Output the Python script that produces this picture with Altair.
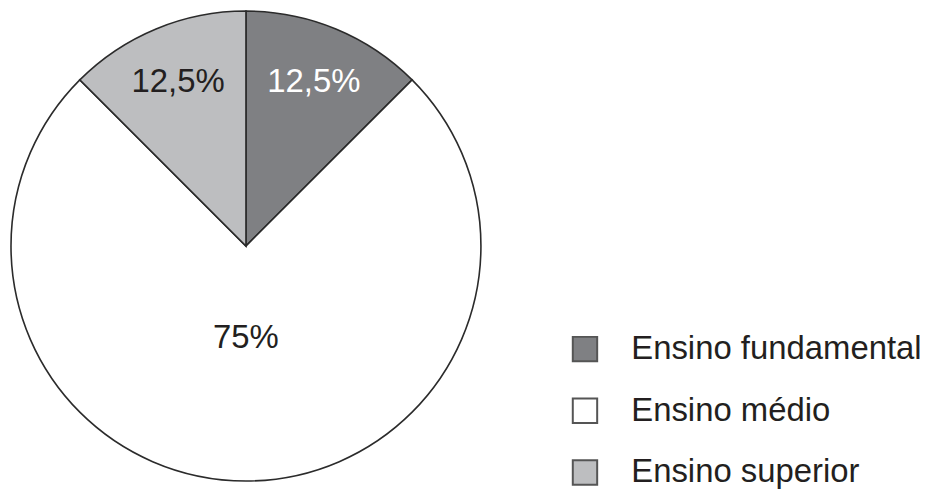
import altair as alt
import pandas as pd

categories = ["Ensino fundamental", "Ensino médio", "Ensino superior"]
values = [12.5, 75, 12.5]
labels = ["12,5%", "75%", "12,5%"]
slice_colors = ["#7f8083", "#ffffff", "#bdbec0"]
label_colors = ["#ffffff", "#231f20", "#231f20"]

df = pd.DataFrame({
    "cat": categories,
    "val": values,
    "lab": labels,
    "ord": list(range(len(categories))),
    "tcol": label_colors,
})

CX, CY, R = 239, 238, 236

pie = alt.Chart(df).mark_arc(outerRadius=R, stroke="#2b2b2b", strokeWidth=1.6).encode(
    theta=alt.Theta("val:Q", stack=True, scale=alt.Scale(domain=[0, 100])),
    order=alt.Order("ord:Q"),
    x=alt.value(CX),
    y=alt.value(CY),
    color=alt.Color(
        "cat:N",
        scale=alt.Scale(domain=categories, range=slice_colors),
        legend=alt.Legend(
            title=None,
            orient="none",
            legendX=563,
            legendY=325,
            symbolType="square",
            symbolSize=600,
            symbolStrokeColor="#555555",
            symbolStrokeWidth=2,
            symbolFillColor="#ffffff",
            labelFontSize=33,
            labelFont="Liberation Sans",
            labelColor="#231f20",
            labelOffset=30,
            labelLimit=400,
            rowPadding=28,
            padding=0,
        ),
    ),
)

texts = alt.Chart(df).transform_window(
    cum="sum(val)", sort=[alt.SortField("ord")], frame=[None, 0]
).transform_calculate(
    mid="datum.cum - datum.val / 2",
    rad="datum.val >= 50 ? 92 : 178",
).mark_text(fontSize=33, font="Liberation Sans").encode(
    theta=alt.Theta("mid:Q", stack=None, scale=alt.Scale(domain=[0, 100])),
    radius=alt.Radius("rad:Q", scale=None),
    x=alt.value(CX),
    y=alt.value(CY),
    text="lab:N",
    color=alt.Color("tcol:N", scale=None),
)

chart = alt.layer(pie, texts).resolve_scale(theta="independent").properties(
    width=920,
    height=483,
    autosize=alt.AutoSizeParams(type="none"),
    padding=0,
).configure_view(stroke=None)

chart.save("out.html", embed_options={"renderer": "svg", "actions": False})
